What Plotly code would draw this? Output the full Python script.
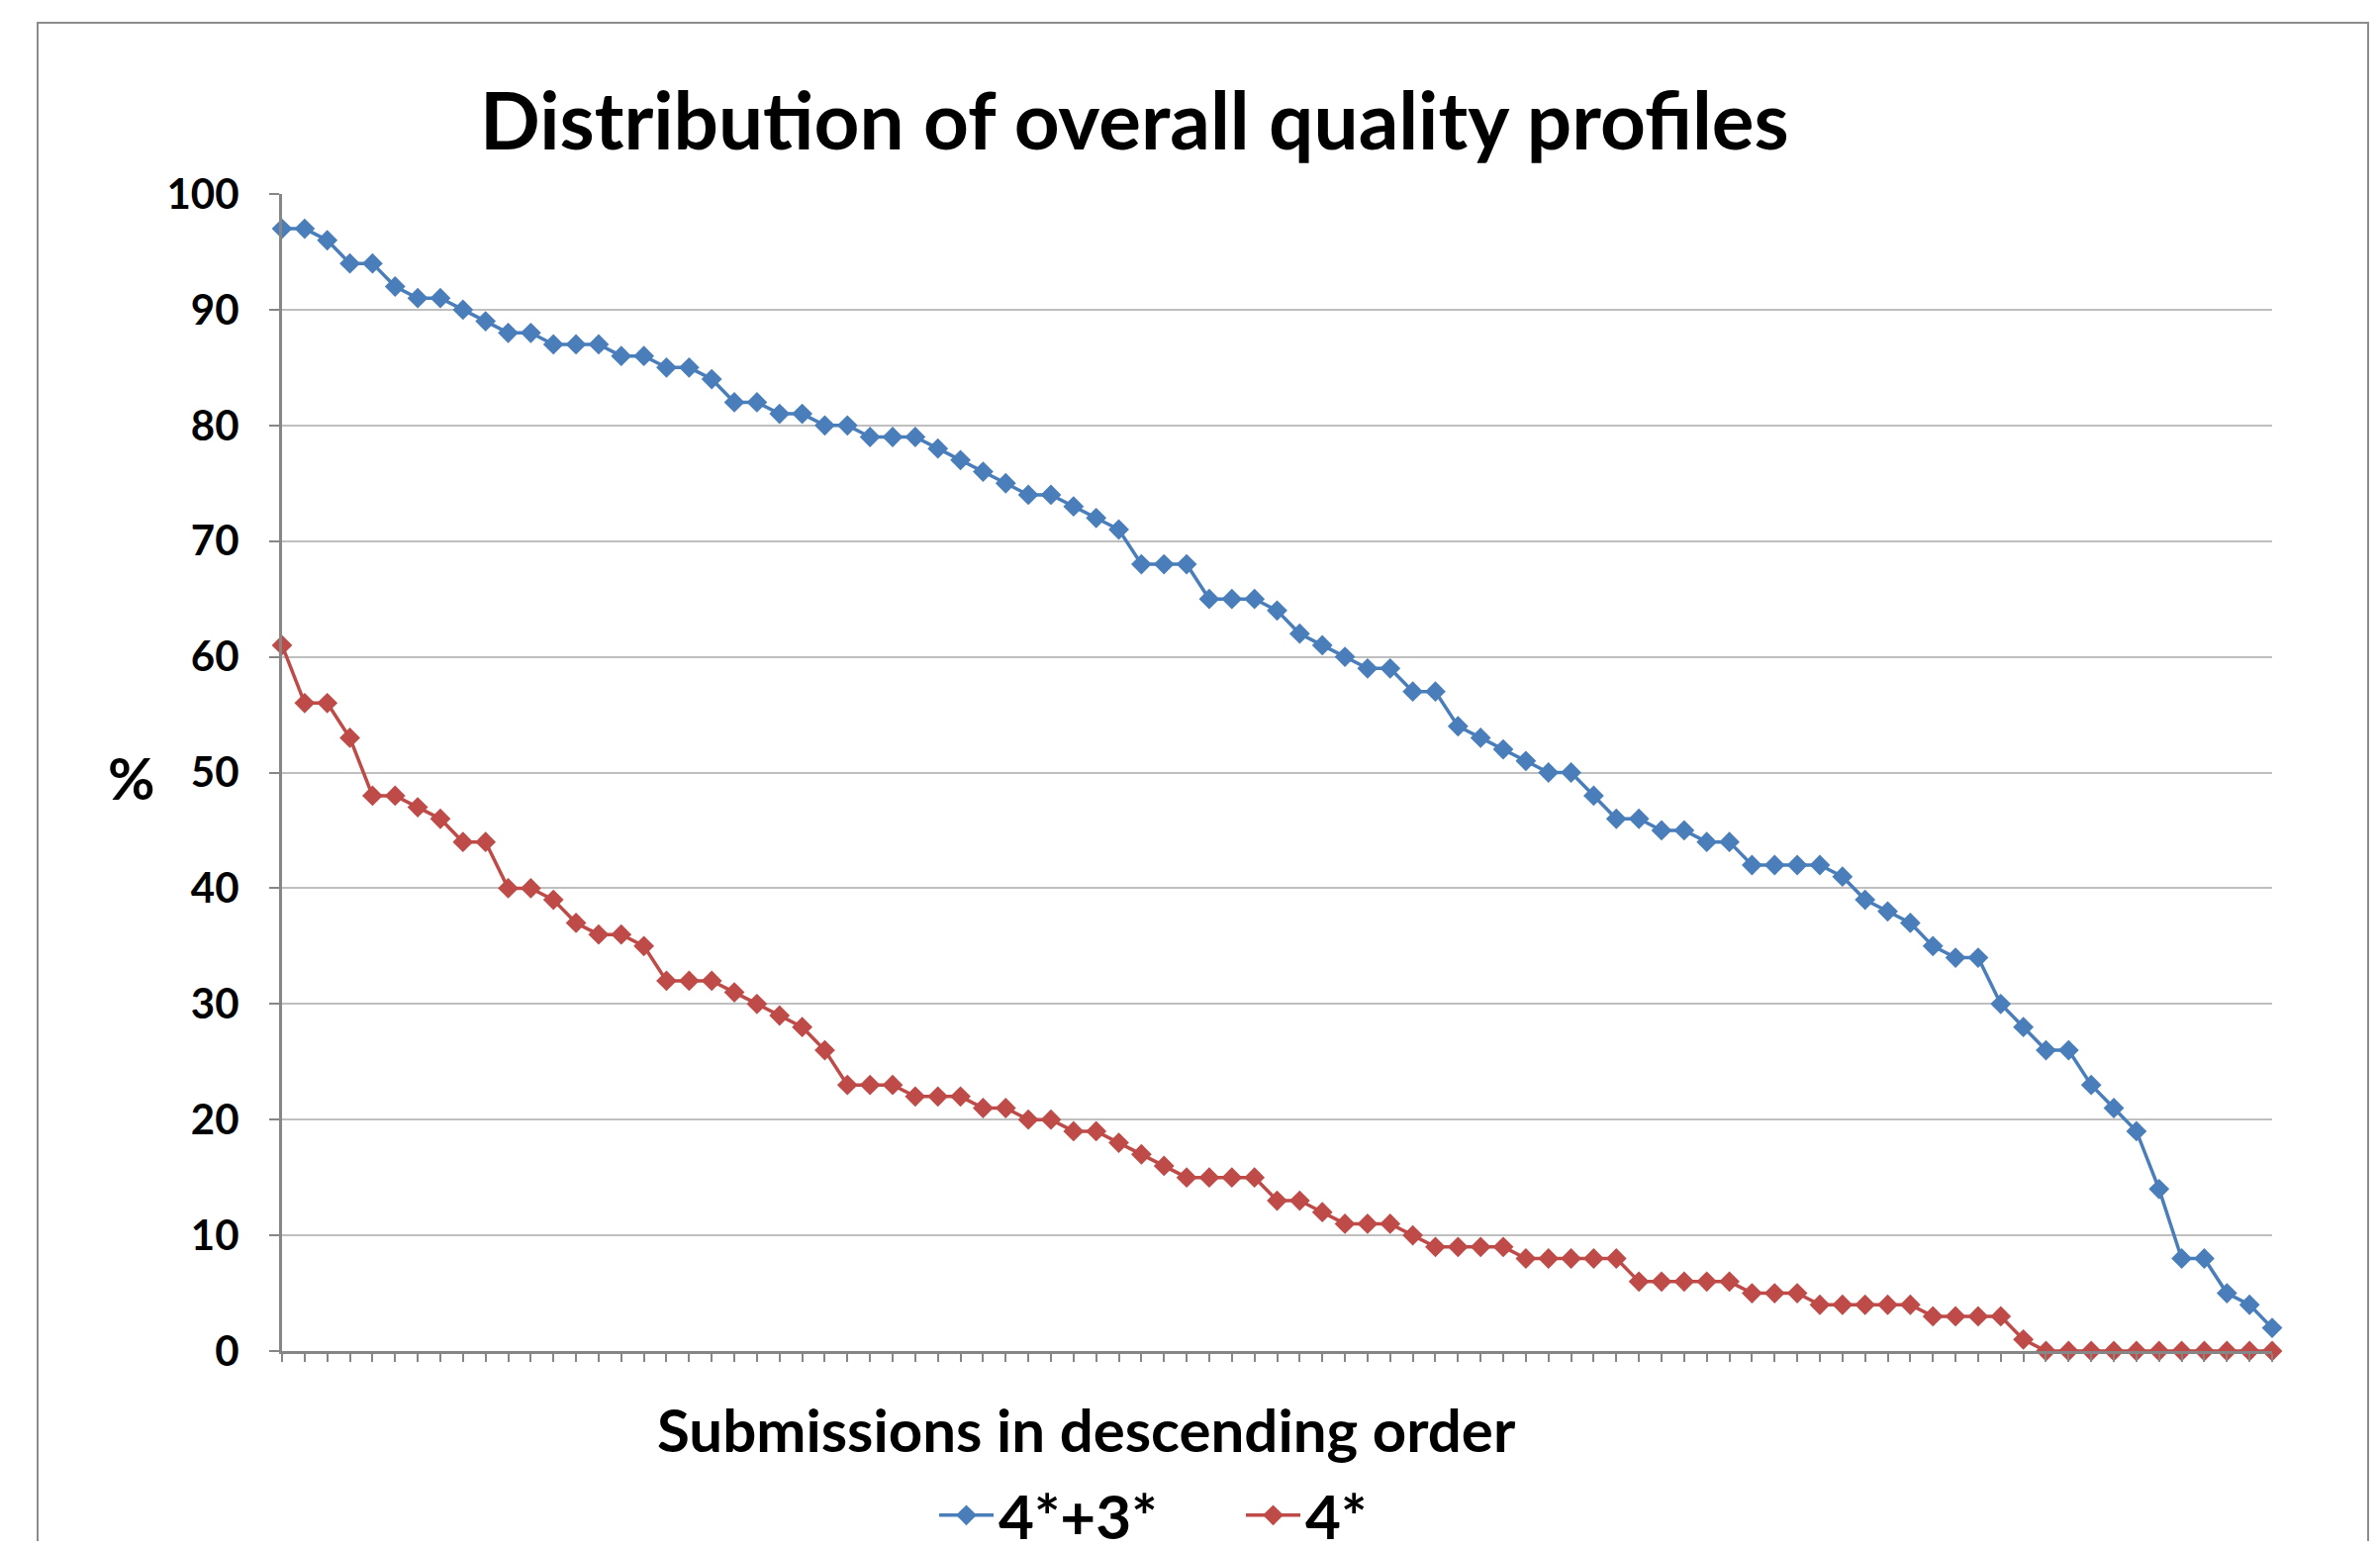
import plotly.graph_objects as go

# ---- data ----
submissions = list(range(1, 90))
four_plus_three = [97, 97, 96, 94, 94, 92, 91, 91, 90, 89, 88, 88, 87, 87, 87, 86, 86, 85, 85, 84,
                   82, 82, 81, 81, 80, 80, 79, 79, 79, 78, 77, 76, 75, 74, 74, 73, 72, 71, 68, 68,
                   68, 65, 65, 65, 64, 62, 61, 60, 59, 59, 57, 57, 54, 53, 52, 51, 50, 50, 48, 46,
                   46, 45, 45, 44, 44, 42, 42, 42, 42, 41, 39, 38, 37, 35, 34, 34, 30, 28, 26, 26,
                   23, 21, 19, 14, 8, 8, 5, 4, 2]
four_star = [61, 56, 56, 53, 48, 48, 47, 46, 44, 44, 40, 40, 39, 37, 36, 36, 35, 32, 32, 32,
             31, 30, 29, 28, 26, 23, 23, 23, 22, 22, 22, 21, 21, 20, 20, 19, 19, 18, 17, 16,
             15, 15, 15, 15, 13, 13, 12, 11, 11, 11, 10, 9, 9, 9, 9, 8, 8, 8, 8, 8,
             6, 6, 6, 6, 6, 5, 5, 5, 4, 4, 4, 4, 4, 3, 3, 3, 3, 1, 0, 0,
             0, 0, 0, 0, 0, 0, 0, 0, 0]
series_names = ["4*+3*", "4*"]
y_ticks = [0, 10, 20, 30, 40, 50, 60, 70, 80, 90, 100]

TITLE = "Distribution of overall quality profiles"
X_TITLE = "Submissions in descending order"
Y_TITLE = "%"

# ---- layout geometry (window pixels; page body has an 8px margin) ----
OFF = 8
W, H = 2405 - 2 * OFF, 1565 - 2 * OFF
PL, PR, PT, PB = 285, 2296, 196, 1365          # plot area in window pixels
L, T = PL - OFF, PT - OFF
R = W - (PR - OFF)
B = H - (PB - OFF)
PW, PH = PR - PL, PB - PT


def px(x):
    return (x - PL) / PW


def py(y):
    return (PB - y) / PH


FONT = "Lato"
BLUE = "#4A7EBB"
RED = "#BE4B48"
AXIS = "#868686"
GRID = "#BFBFBF"

fig = go.Figure()
for name, vals, col in [(series_names[0], four_plus_three, BLUE), (series_names[1], four_star, RED)]:
    fig.add_trace(go.Scatter(
        x=submissions, y=vals, name=name, mode="lines+markers",
        line=dict(color=col, width=3.5),
        marker=dict(symbol="diamond", size=16, color=col),
        cliponaxis=False,
    ))

fig.update_layout(
    width=W, height=H,
    margin=dict(l=L, r=R, t=T, b=B, autoexpand=False),
    paper_bgcolor="white", plot_bgcolor="white",
    font=dict(family=FONT, color="black"),
    showlegend=True,
    legend=dict(
        orientation="h", x=px(944), y=py(1531), xanchor="left", yanchor="middle",
        font=dict(family=FONT, size=62, weight="bold", color="black"),
        itemwidth=55, entrywidth=240, traceorder="normal",
        bgcolor="rgba(0,0,0,0)",
    ),
    xaxis=dict(
        range=[1, 89], showgrid=False, zeroline=False,
        showline=True, linecolor=AXIS, linewidth=3,
        ticks="outside", tickcolor=AXIS, ticklen=8, tickwidth=2,
        tickmode="linear", tick0=1, dtick=1, showticklabels=False,
    ),
    yaxis=dict(
        range=[0, 100], tickvals=y_ticks, showgrid=True, gridcolor=GRID, gridwidth=2,
        zeroline=False, showline=True, linecolor=AXIS, linewidth=3,
        ticks="outside", tickcolor=AXIS, ticklen=10, tickwidth=2,
        tickfont=dict(family=FONT, size=42, weight="bold", color="black"),
        ticklabelstandoff=22,
    ),
    annotations=[
        dict(text=TITLE, x=px(1146), y=py(120), xref="paper", yref="paper",
             showarrow=False, xanchor="center", yanchor="middle",
             font=dict(family=FONT, size=80, weight="bold", color="black")),
        dict(text=X_TITLE, x=px(1098), y=py(1444), xref="paper", yref="paper",
             showarrow=False, xanchor="center", yanchor="middle",
             font=dict(family=FONT, size=60, weight="bold", color="black")),
        dict(text=Y_TITLE, x=px(133), y=py(785), xref="paper", yref="paper",
             showarrow=False, xanchor="center", yanchor="middle",
             font=dict(family=FONT, size=58, weight="bold", color="black")),
    ],
    shapes=[
        dict(type="rect", xref="paper", yref="paper",
             x0=px(38), x1=px(2393), y0=py(1700), y1=py(23),
             line=dict(color="#8C8C8C", width=2), fillcolor="rgba(0,0,0,0)", layer="below"),
    ],
)

fig.write_html("out.html")
